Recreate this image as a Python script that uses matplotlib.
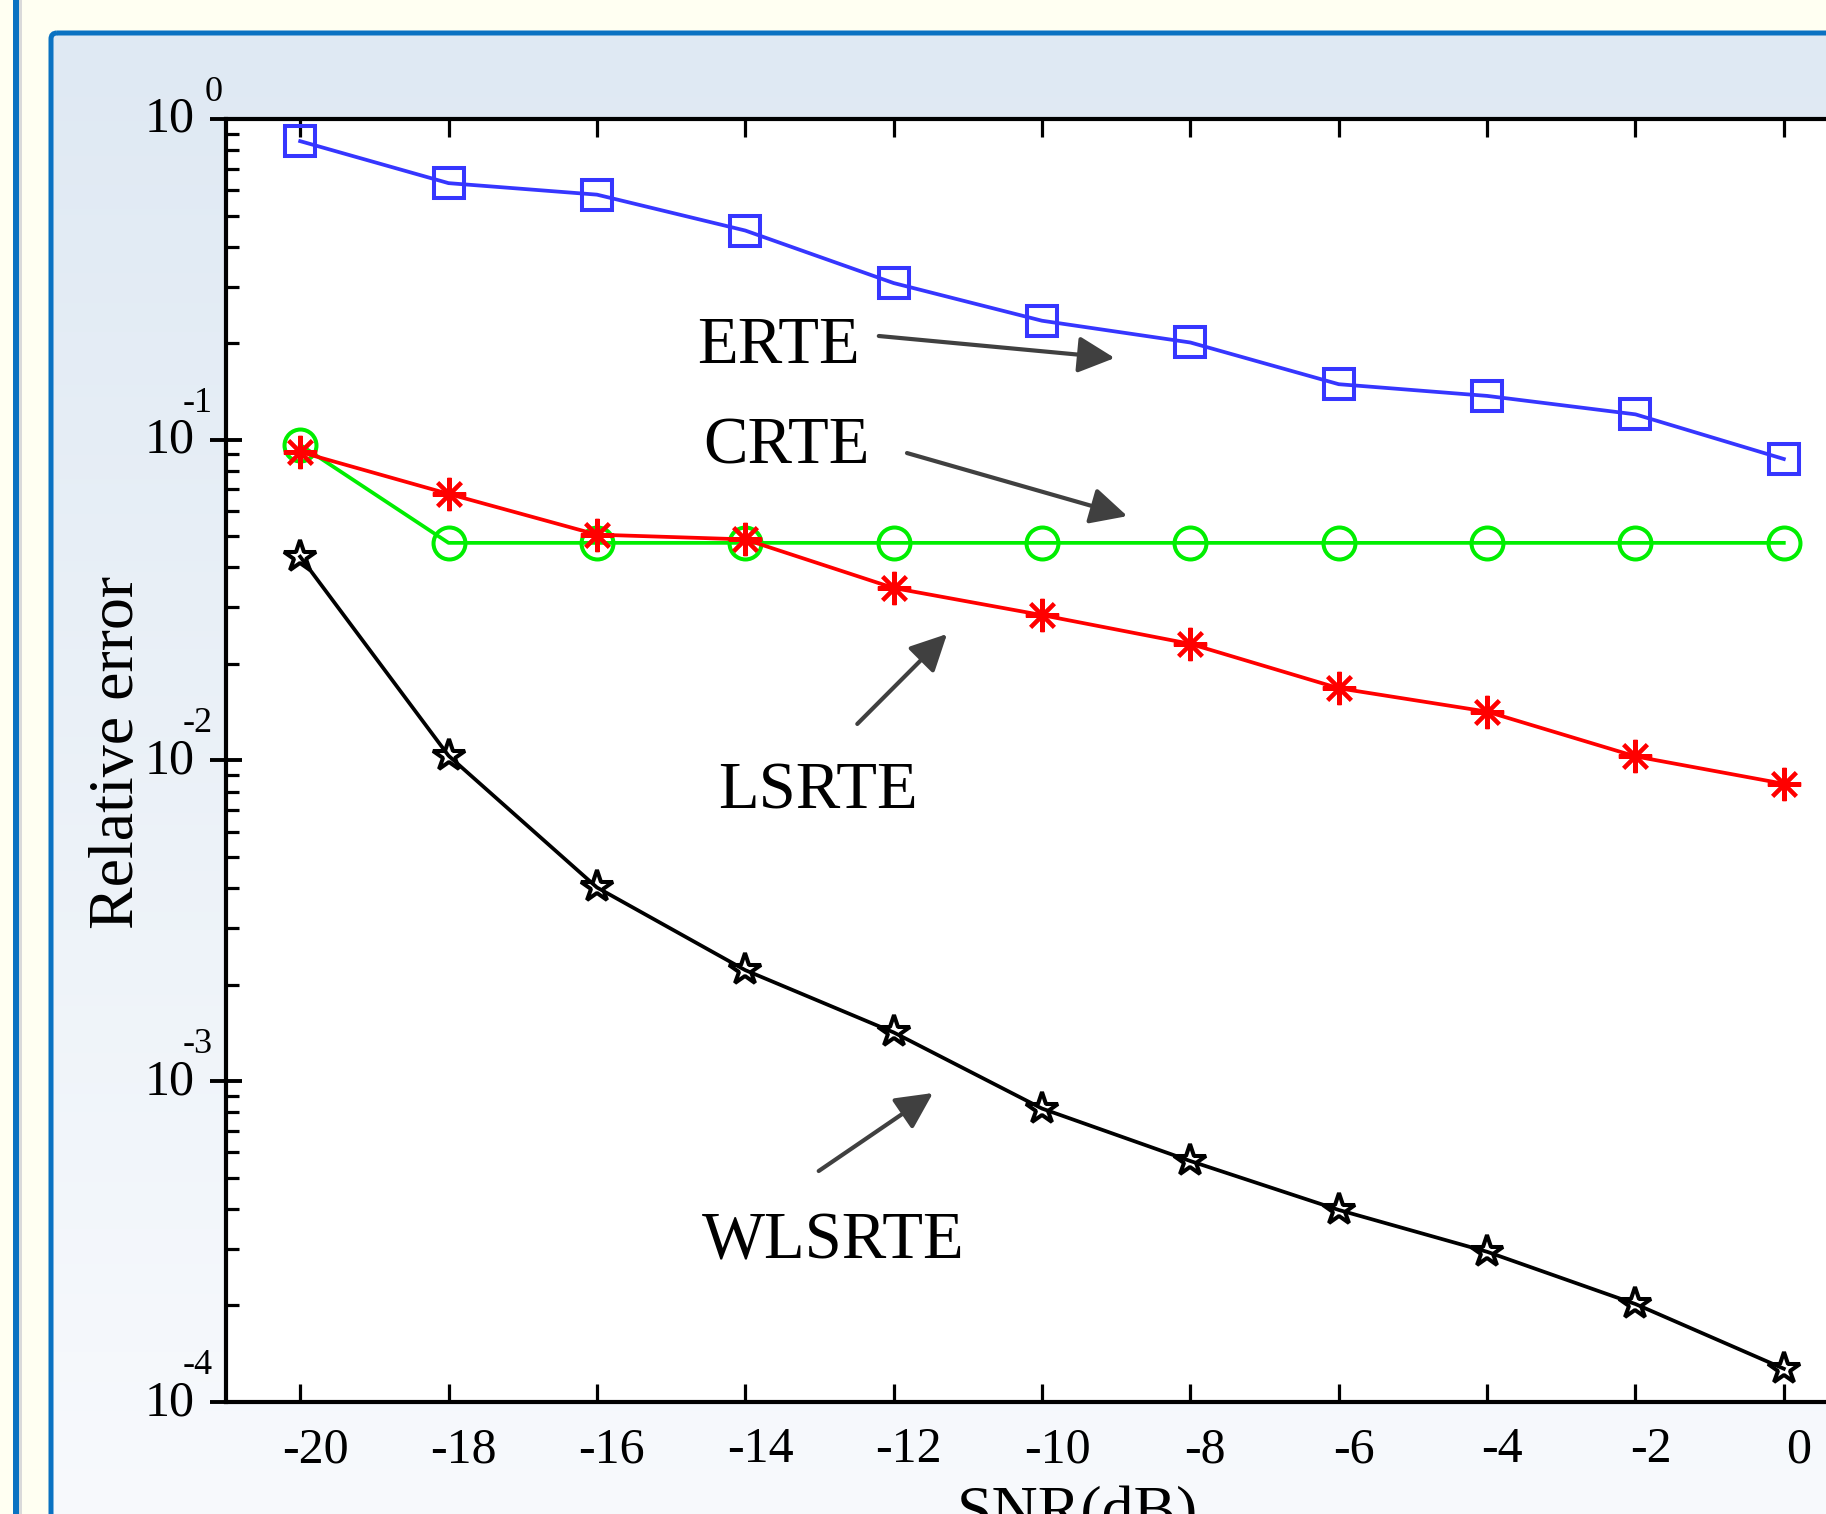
import numpy as np
import matplotlib
matplotlib.use("Agg")
import matplotlib.pyplot as plt
from matplotlib.patches import Rectangle, FancyBboxPatch
from matplotlib.transforms import offset_copy, blended_transform_factory, ScaledTranslation

# ---------------- data ----------------
snr = [-20, -18, -16, -14, -12, -10, -8, -6, -4, -2, 0]
erte = [0.853, 0.631, 0.581, 0.449, 0.308, 0.235, 0.201, 0.149, 0.137, 0.120, 0.0871]
crte = [0.0964, 0.0477, 0.0477, 0.0477, 0.0477, 0.0477, 0.0477, 0.0477, 0.0477, 0.0477, 0.0477]
lsrte = [0.0916, 0.0678, 0.0506, 0.0489, 0.0345, 0.0284, 0.0231, 0.0168, 0.0142, 0.0103, 0.00846]
wlsrte = [0.0432, 0.01035, 0.00402, 0.00222, 0.00142, 0.000822, 0.000564, 0.000397, 0.000294, 0.000202, 0.000127]
xticks = [-20, -18, -16, -14, -12, -10, -8, -6, -4, -2, 0]
ytick_exponents = [0, -1, -2, -3, -4]
series_names = ["ERTE", "CRTE", "LSRTE", "WLSRTE"]

W, H, DPI = 1826, 1514, 100
plt.rcParams['font.family'] = ['Liberation Serif', 'DejaVu Serif']

fig = plt.figure(figsize=(W / DPI, H / DPI), dpi=DPI, facecolor='#FFFFF2')

# ---------------- decorative background (pixel coords) ----------------
bg = fig.add_axes([0, 0, 1, 1], zorder=-10)
bg.axis('off')
bg.add_patch(Rectangle((13, 0), 6, H, color='#0A72C2', lw=0))
bg.add_patch(Rectangle((19, 0), 3, H, color='#DADADA', lw=0))
grad = np.linspace(0, 1, 256)[:, None]
top = np.array([0xDF, 0xE9, 0xF3]) / 255.0
bot = np.array([0xF8, 0xFA, 0xFD]) / 255.0
img = top[None, None, :] * (1 - grad[:, :, None]) + bot[None, None, :] * grad[:, :, None]
bg.imshow(img, extent=(51, W + 20, H + 20, 33), aspect='auto', zorder=0)
bg.add_patch(FancyBboxPatch((51, 33), W, H, boxstyle='round,pad=0,rounding_size=6',
                            fc='none', ec='#0A72C2', lw=3.6, zorder=1))
bg.set_xlim(0, W)
bg.set_ylim(H, 0)

# ---------------- main axes ----------------
L, T, B, R = 226, 119, 1402, 1858
ax = fig.add_axes([L / W, 1 - B / H, (R - L) / W, (B - T) / H])
ax.set_facecolor('white')
ax.set_yscale('log')
ax.set_xlim(-21, 1)
ax.set_ylim(1e-4, 1)

lw = 2.7
mew = 2.9
ax.plot(snr, erte, color='#3636FF', lw=lw, marker='s', ms=21, mfc='none', mec='#3636FF', mew=mew, zorder=3)
ax.plot(snr, crte, color='#00EE00', lw=lw, marker='o', ms=23, mfc='none', mec='#00EE00', mew=mew, zorder=3)
ax.plot(snr, lsrte, color='#FF0000', lw=lw, marker=(8, 2, 0), ms=24, mfc='none', mec='#FF0000', mew=mew, zorder=4)
ax.plot(snr, wlsrte, color='black', lw=lw, marker='*', ms=24, mfc='none', mec='black', mew=mew, zorder=4)

# spines and ticks
for s in ['left', 'top', 'bottom', 'right']:
    ax.spines[s].set_linewidth(3.0)
ax.set_xticks(xticks)
ax.set_xticklabels([str(v) for v in xticks])
ax.tick_params(axis='x', which='major', direction='in', length=13, width=2.3,
               top=True, bottom=True, labelsize=36, pad=18)
ax.tick_params(axis='x', which='minor', bottom=False, top=False)
ax.set_yticks([10.0 ** e for e in ytick_exponents])
ax.tick_params(axis='y', which='major', direction='inout', length=23, width=2.8,
               left=True, right=False, labelleft=False)
ax.tick_params(axis='y', which='minor', direction='in', length=9.5, width=2.3,
               left=True, right=False)
for lab in ax.get_xticklabels():
    lab.set_transform(lab.get_transform() + ScaledTranslation(15 / DPI, 0, fig.dpi_scale_trans))

# y tick labels drawn as "10" with raised exponent
ytrans = blended_transform_factory(ax.transAxes, ax.transData)
for e in ytick_exponents:
    ax.text(0, 10.0 ** e, '10', transform=offset_copy(ytrans, fig=fig, x=-31, y=-13, units='dots'),
            ha='right', va='baseline', fontsize=36, clip_on=False)
    if e == 0:
        ex, ey, ha = -21, 18, 'left'
    else:
        ex, ey, ha = -13, 28, 'right'
    ax.text(0, 10.0 ** e, str(e), transform=offset_copy(ytrans, fig=fig, x=ex, y=ey, units='dots'),
            ha=ha, va='baseline', fontsize=26, clip_on=False)

# axis labels
fig.text(118 / W, 1 - 752 / H, 'Relative error', rotation=90, ha='center', va='center', fontsize=46)
fig.text(1077 / W, 1 - 1530 / H, 'SNR(dB)', ha='center', va='baseline', fontsize=46)

# annotations
arrow = dict(arrowstyle='-|>,head_length=0.8,head_width=0.4', mutation_scale=28,
             lw=3, color='#404040', shrinkA=0, shrinkB=0)
text_pos = {"ERTE": (-13.55, 0.2047), "CRTE": (-13.45, 0.0998),
            "LSRTE": (-13.02, 0.00839), "WLSRTE": (-12.82, 3.32e-4)}
arrow_tail = {"ERTE": (-12.20, 0.2106), "CRTE": (-11.82, 0.0909),
              "LSRTE": (-12.49, 0.0130), "WLSRTE": (-13.01, 5.25e-4)}
arrow_head = {"ERTE": (-9.02, 0.1798), "CRTE": (-8.85, 0.0578),
              "LSRTE": (-11.28, 0.0248), "WLSRTE": (-11.47, 9.19e-4)}
for name in series_names:
    ax.text(*text_pos[name], name, ha='center', va='center_baseline', fontsize=48, zorder=5)
    ax.annotate('', xy=arrow_head[name], xytext=arrow_tail[name], arrowprops=arrow, zorder=5)

fig.savefig('out.png', dpi=DPI, facecolor=fig.get_facecolor())
